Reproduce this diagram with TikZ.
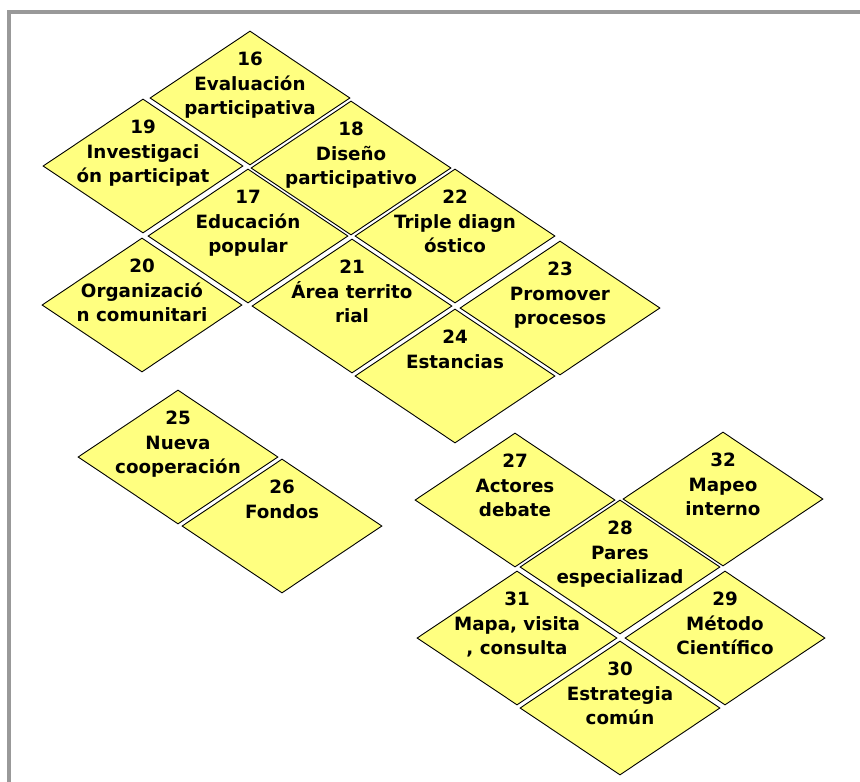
\documentclass[tikz,border=0pt]{standalone}
\usepackage{fontspec}
\setmainfont{DejaVu Sans}
\usetikzlibrary{shapes.geometric}
\definecolor{tile}{RGB}{255,255,128}
\definecolor{framegray}{RGB}{153,153,153}
\tikzset{
  tilebox/.style={shape=diamond, draw=black, line width=0.9pt, fill=tile,
    minimum width=200pt, minimum height=134pt, inner sep=0pt},
  tiletext/.style={anchor=north, align=center, inner sep=0pt,
    font=\fontsize{18.3}{24.5}\selectfont\bfseries, text=black}
}
\newcommand{\tileat}[3]{\node[tilebox] (d#1) at (#2,#3) {};}
\newcommand{\tilelabel}[2]{\node[tiletext] (t#1) at ([yshift=45.8pt]d#1.center) {#2};}
\begin{document}
\begin{tikzpicture}[x=1pt,y=-1pt]
\useasboundingbox (0,0) rectangle (860,782);
\fill[white] (0,0) rectangle (860,782);
\fill[framegray] (7,10) rectangle (860,14);
\fill[framegray] (7,10) rectangle (11,782);
% upper cluster
\tileat{16}{250}{98}
\tileat{19}{143}{166}
\tileat{18}{351}{168}
\tileat{17}{248}{236}
\tileat{22}{455}{236}
\tileat{20}{142}{305}
\tileat{21}{352}{306}
\tileat{23}{560}{308}
\tileat{24}{455}{376}
% left pair
\tileat{25}{178}{457}
\tileat{26}{282}{526}
% lower cluster
\tileat{27}{515}{500}
\tileat{32}{723}{499}
\tileat{28}{620}{567}
\tileat{31}{517}{638}
\tileat{29}{725}{638}
\tileat{30}{620}{708}
% labels
\tilelabel{16}{16\\Evaluación\\participativa}
\tilelabel{19}{19\\Investigaci\\ón participat}
\tilelabel{18}{18\\Diseño\\participativo}
\tilelabel{17}{17\\Educación\\popular}
\tilelabel{22}{22\\Triple diagn\\óstico}
\tilelabel{20}{20\\Organizació\\n comunitari}
\tilelabel{21}{21\\Área territo\\rial}
\tilelabel{23}{23\\Promover\\procesos}
\tilelabel{24}{24\\Estancias}
\tilelabel{25}{25\\Nueva\\cooperación}
\tilelabel{26}{26\\Fondos}
\tilelabel{27}{27\\Actores\\debate}
\tilelabel{32}{32\\Mapeo\\interno}
\tilelabel{28}{28\\Pares\\especializad}
\tilelabel{31}{31\\Mapa, visita\\, consulta}
\tilelabel{29}{29\\Método\\Científico}
\tilelabel{30}{30\\Estrategia\\común}
\end{tikzpicture}
\end{document}
